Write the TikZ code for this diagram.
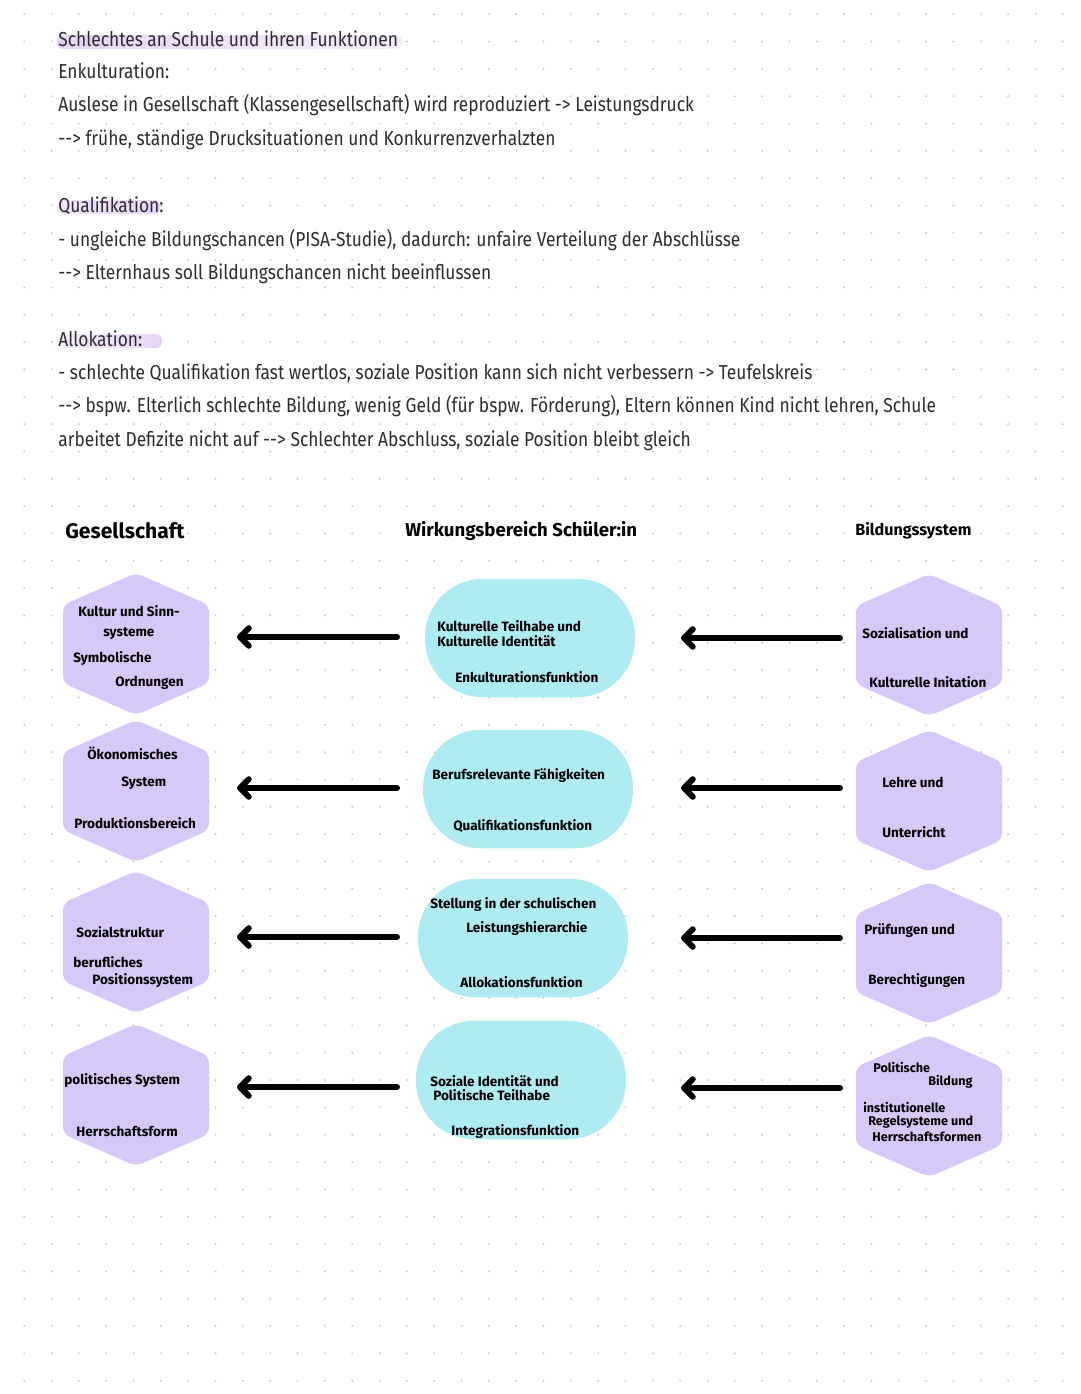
\documentclass[tikz,border=0pt]{standalone}
\usepackage{fontspec}
\setmainfont{Fira Sans}[FakeStretch=0.86]
\newfontfamily\markerfont{Fira Sans}
\usetikzlibrary{arrows.meta}

\definecolor{hexlila}{RGB}{214,201,250}
\definecolor{ovalcyan}{RGB}{174,235,242}
\definecolor{dotgray}{RGB}{200,200,200}
\definecolor{marklila}{RGB}{232,212,247}
\definecolor{ink}{RGB}{45,45,45}

\tikzset{
  notiz/.style={anchor=west, inner sep=0pt, text=ink, font=\fontsize{11.5}{13}\selectfont, text height=1.6ex, text depth=.3ex},
  kopf/.style={anchor=west, inner sep=0pt, font=\markerfont\bfseries\fontsize{#1}{12}\selectfont},
  stift/.style={anchor=west, inner sep=0pt, font=\markerfont\bfseries\fontsize{7.7}{8}\selectfont},
  klein/.style={stift, font=\markerfont\bfseries\fontsize{7.2}{8}\selectfont},
  oval/.style={fill=ovalcyan, rounded corners=33pt, minimum width=4.2cm, minimum height=2.37cm, inner sep=0pt},
  dickpfeil/.style={line width=3.4pt, line cap=round, -{Straight Barb[round,length=5pt,width=10pt]}},
}

% Sechseck mit Mittelpunkt (#1,#2), Name #3
\newcommand{\hexa}[3]{%
  \fill[hexlila, rounded corners=4pt] (#1,#2-71) -- (#1+73,#2-39) -- (#1+73,#2+39)
    -- (#1,#2+71) -- (#1-73,#2+39) -- (#1-73,#2-39) -- cycle;
  \coordinate (#3) at (#1,#2);}

\begin{document}
\begin{tikzpicture}[x=0.02cm, y=-0.02cm]
\useasboundingbox (0,0) rectangle (1080,1394);
\fill[white] (0,0) rectangle (1080,1394);

% Punktraster
\foreach \i in {0,...,38}
  \foreach \j in {0,...,50}
    \fill[dotgray] (24.3+27.33*\i,14.2+27.33*\j) circle (0.6pt);

% Markierungen
\shade[left color=marklila, right color=marklila!40, rounded corners=3pt] (57,35) rectangle (402,49);
\shade[left color=marklila!60, right color=marklila, rounded corners=3pt] (57,200) rectangle (160,214);
\shade[left color=marklila!40, right color=marklila, rounded corners=3pt] (57,334) rectangle (162,348);

% Notizen
\node[notiz] (titel) at (58,40) {Schlechtes an Schule und ihren Funktionen};
\node[notiz] (enk) at (58,72) {Enkulturation:};
\node[notiz] (enka) at (58,105) {Auslese in Gesellschaft (Klassengesellschaft) wird reproduziert -{}> Leistungsdruck};
\node[notiz] (enkb) at (58,139) {-{}-> frühe, ständige Drucksituationen und Konkurrenzverhalzten};
\node[notiz] (qua) at (58,206) {Qualifikation:};
\node[notiz] (quaa) at (58,240) {- ungleiche Bildungschancen (PISA-Studie), dadurch: unfaire Verteilung der Abschlüsse};
\node[notiz] (quab) at (58,273) {-{}-> Elternhaus soll Bildungschancen nicht beeinflussen};
\node[notiz] (allo) at (58,340) {Allokation:};
\node[notiz] (alloa) at (58,373) {- schlechte Qualifikation fast wertlos, soziale Position kann sich nicht verbessern -{}> Teufelskreis};
\node[notiz] (allob) at (58,406) {-{}-> bspw. Elterlich schlechte Bildung, wenig Geld (für bspw. Förderung), Eltern können Kind nicht lehren, Schule};
\node[notiz] (alloc) at (58,440) {arbeitet Defizite nicht auf -{}-> Schlechter Abschluss, soziale Position bleibt gleich};

% Spaltenköpfe
\node[kopf=12] (ges) at (65,531) {Gesellschaft};
\node[kopf=10.6] (wir) at (405,531) {Wirkungsbereich Schüler:in};
\node[kopf=9.2] (bil) at (855,531) {Bildungssystem};

% Gesellschaft
\hexa{136}{644}{gs1}
\hexa{136}{791}{gs2}
\hexa{136}{942}{gs3}
\hexa{136}{1095}{gs4}
% Bildungssystem
\hexa{929}{645}{bs1}
\hexa{929}{801}{bs2}
\hexa{929}{953}{bs3}
\hexa{929}{1106}{bs4}

% Wirkungsbereich
\node[oval] (ov1) at (530,638) {};
\node[oval] (ov2) at (528,789) {};
\node[oval] (ov3) at (523,938) {};
\node[oval] (ov4) at (521,1080) {};

% Texte links
\node[stift] at (78,611) {Kultur und Sinn-};
\node[stift] at (103,633) {systeme};
\node[stift] at (73,659) {Symbolische};
\node[stift] at (115,683) {Ordnungen};
\node[stift] at (87,753) {Ökonomisches};
\node[stift] at (121,783) {System};
\node[stift] at (74,823) {Produktionsbereich};
\node[stift] at (76,932) {Sozialstruktur};
\node[stift] at (73,962) {berufliches};
\node[stift] at (92,981) {Positionssystem};
\node[stift] at (64,1081) {politisches System};
\node[stift] at (76,1131) {Herrschaftsform};

% Texte Mitte
\node[stift] at (437,626) {Kulturelle Teilhabe und};
\node[stift] at (437,641) {Kulturelle Identität};
\node[stift] at (455,677) {Enkulturationsfunktion};
\node[stift] at (432,776) {Berufsrelevante Fähigkeiten};
\node[stift] at (453,826) {Qualifikationsfunktion};
\node[stift] at (430,905) {Stellung in der schulischen};
\node[stift] at (466,929) {Leistungshierarchie};
\node[stift] at (460,982) {Allokationsfunktion};
\node[stift] at (430,1081) {Soziale Identität und};
\node[stift] at (433,1095) {Politische Teilhabe};
\node[stift] at (451,1131) {Integrationsfunktion};

% Texte rechts
\node[stift] at (862,633) {Sozialisation und};
\node[stift] at (869,682) {Kulturelle Initation};
\node[stift] at (882,782) {Lehre und};
\node[stift] at (882,832) {Unterricht};
\node[stift] at (864,931) {Prüfungen und};
\node[stift] at (868,981) {Berechtigungen};
\node[klein] at (873,1067) {Politische};
\node[klein] at (928,1082) {Bildung};
\node[klein] at (863,1107) {institutionelle};
\node[klein] at (868,1122) {Regelsysteme und};
\node[klein] at (872,1137) {Herrschaftsformen};

% Pfeile
\foreach \r/\ya/\yb in {1/637/638, 2/788/788, 3/937/938, 4/1087/1088}{
  \coordinate (pl\r) at (397,\ya);
  \coordinate (ql\r) at (237,\ya);
  \coordinate (pr\r) at (840,\yb);
  \coordinate (qr\r) at (681,\yb);
  \draw[dickpfeil] (pl\r) -- (ql\r);
  \draw[dickpfeil] (pr\r) -- (qr\r);
}
\end{tikzpicture}
\end{document}
